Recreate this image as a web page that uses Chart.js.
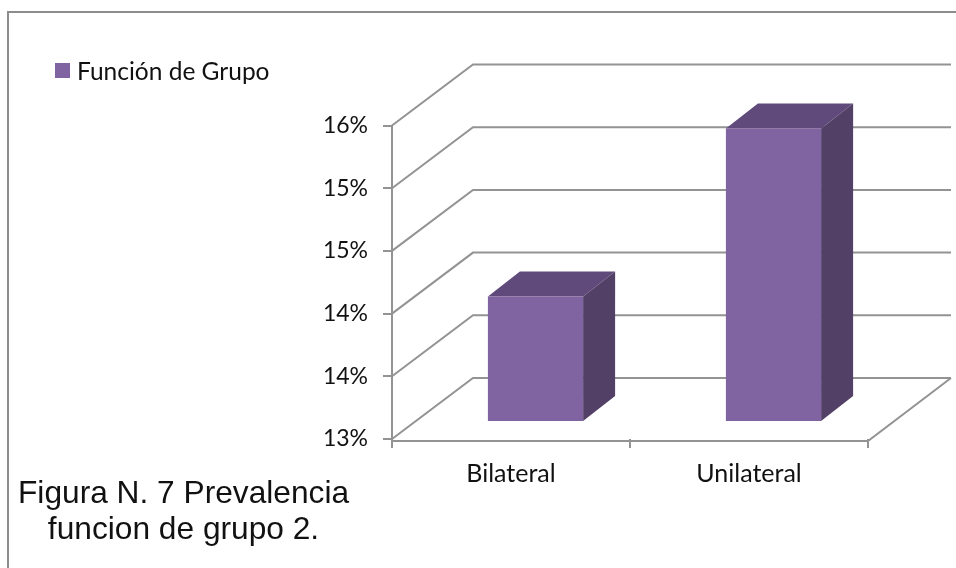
<!DOCTYPE html>
<html lang="es">
<head>
<meta charset="utf-8">
<title>Función de Grupo</title>
<script src="https://cdn.jsdelivr.net/npm/chart.js@4"></script>
<style>
    html, body { margin: 0; padding: 0; background: #fff; }
    #lienzo { position: relative; width: 956px; height: 568px; overflow: hidden; }
    #marco { position: absolute; left: 7px; top: 11px; right: -4px; bottom: -4px; border: 2px solid #8c8c8c; }
    canvas { position: absolute; left: 0; top: 0; }
    #leyenda {
        position: absolute; left: 55px; top: 56px; display: flex; align-items: center;
        font: 24.5px Lato, sans-serif; color: #111; white-space: nowrap;
    }
    #leyenda i { display: block; width: 15px; height: 15px; margin-right: 7px; }
    #pie {
        position: absolute; left: 18px; top: 473.5px; width: 331px; text-align: center;
        font: 31.7px/36.5px "Liberation Sans", Arial, sans-serif; color: #111; white-space: nowrap;
    }
</style>
</head>
<body>
<div id="lienzo">
    <div id="marco"></div>
    <canvas id="grafico" width="956" height="568"></canvas>
    <div id="leyenda"></div>
    <div id="pie">Figura N. 7 Prevalencia<br>funcion de grupo 2.</div>
</div>
<script>
// Datos de la gráfica
const categorias = ['Bilateral', 'Unilateral'];
const prevalencia = [14.0, 15.34];
const nombreSerie = 'Función de Grupo';

const colorFrente = '#8064a2';
const colorTapa = '#604a7b';
const colorLado = '#524066';
const colorLinea = '#939393';

// Desplazamiento de la pared del fondo y de las barras para el efecto 3D
const fondo = { dx: 81, dy: -61 };
const barra3d = { dx: 24.5, dy: -17, ladoX: 32, ladoY: -25 };

function poligono(ctx, puntos, color) {
    ctx.fillStyle = color;
    ctx.beginPath();
    puntos.forEach((p, i) => i ? ctx.lineTo(p[0], p[1]) : ctx.moveTo(p[0], p[1]));
    ctx.closePath();
    ctx.fill();
}

// Dibuja paredes, suelo y las caras laterales de las barras
const efecto3d = {
    id: 'efecto3d',
    beforeDatasetsDraw(chart) {
        const { ctx, scales: { y }, chartArea: { left, right, bottom } } = chart;
        ctx.save();
        ctx.strokeStyle = colorLinea;
        ctx.lineWidth = 2;
        y.ticks.forEach(t => {
            const py = y.getPixelForValue(t.value);
            ctx.beginPath();
            ctx.moveTo(left, py);
            ctx.lineTo(left + fondo.dx, py + fondo.dy);
            ctx.lineTo(right + fondo.dx + 2, py + fondo.dy);
            ctx.stroke();
        });
        // borde frontal y lateral del suelo
        ctx.beginPath();
        ctx.moveTo(left, bottom + 2);
        ctx.lineTo(right, bottom + 2);
        ctx.lineTo(right + fondo.dx + 2, bottom + fondo.dy);
        ctx.stroke();
        ctx.restore();
    },
    beforeDatasetDraw(chart, args) {
        const { ctx } = chart;
        ctx.save();
        ctx.translate(barra3d.dx, barra3d.dy);
        const { ladoX, ladoY } = barra3d;
        args.meta.data.forEach(b => {
            const izq = b.x - b.width / 2;
            const der = b.x + b.width / 2;
            poligono(ctx, [[izq, b.y], [izq + ladoX, b.y + ladoY], [der + ladoX, b.y + ladoY], [der, b.y]], colorTapa);
            poligono(ctx, [[der, b.y], [der + ladoX, b.y + ladoY], [der + ladoX, b.base + ladoY], [der, b.base]], colorLado);
        });
    },
    afterDatasetDraw(chart) {
        chart.ctx.restore();
    }
};

const grafico = new Chart(document.getElementById('grafico').getContext('2d'), {
    type: 'bar',
    data: {
        labels: categorias,
        datasets: [{
            label: nombreSerie,
            data: prevalencia,
            base: 13,
            backgroundColor: colorFrente,
            barPercentage: 0.4,
            categoryPercentage: 1,
            clip: false
        }]
    },
    options: {
        responsive: false,
        animation: false,
        layout: { padding: { top: 125.5, left: 322, right: 88, bottom: 69 } },
        plugins: { legend: { display: false }, tooltip: { enabled: false } },
        scales: {
            y: {
                min: 13,
                max: 15.5,
                afterFit: s => { s.width = 70; },
                ticks: {
                    stepSize: 0.5,
                    padding: 15,
                    color: '#111',
                    font: { family: 'Lato', size: 23 },
                    callback: v => Math.round(v) + '%'
                },
                grid: { drawOnChartArea: false, tickLength: 9, color: colorLinea, lineWidth: 2 },
                border: { color: colorLinea, width: 2 }
            },
            x: {
                afterFit: s => { s.height = 60; },
                ticks: {
                    padding: 11,
                    color: '#111',
                    font: { family: 'Lato', size: 25 },
                    maxRotation: 0
                },
                grid: { drawOnChartArea: false, offset: true, tickLength: 9, color: colorLinea, lineWidth: 2 },
                border: { display: false }
            }
        }
    },
    plugins: [efecto3d]
});

// Leyenda en HTML a partir de la serie
const leyenda = document.getElementById('leyenda');
const muestra = document.createElement('i');
muestra.style.background = colorFrente;
leyenda.appendChild(muestra);
leyenda.appendChild(document.createTextNode(nombreSerie));
</script>
</body>
</html>
